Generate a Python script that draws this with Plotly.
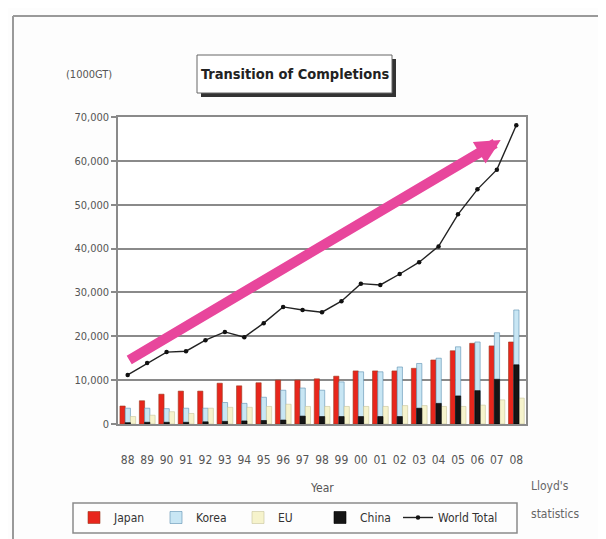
import plotly.graph_objects as go

years = ["88","89","90","91","92","93","94","95","96","97","98","99",
         "00","01","02","03","04","05","06","07","08"]
japan = [4100,5300,6800,7500,7500,9300,8700,9400,10000,10000,10300,10900,
         12100,12100,12100,12700,14600,16700,18400,17800,18700]
korea = [3600,3600,3500,3600,3600,4900,4700,6100,7700,8200,7700,9600,
         11900,11900,13000,13800,15000,17600,18700,20800,26000]
eu = [1700,2000,2800,2400,3600,3800,3800,4000,4500,4000,4000,4000,
      4000,4000,4200,4200,4000,4000,4300,5500,5900]
china = [300,400,400,400,500,600,700,800,900,1800,1700,1700,
         1700,1700,1700,3600,4700,6400,7600,10200,13500]
world = [11200,13900,16400,16600,19100,21000,19800,23000,26700,26000,25500,28000,
         32000,31700,34200,36900,40500,47800,53500,58000,68100]
y_ticks = [0,10000,20000,30000,40000,50000,60000,70000]

FONT = "DejaVu Sans Condensed, Liberation Sans Narrow, Arial Narrow, DejaVu Sans, sans-serif"
W, H = 606, 539
OFF = 8  # page body margin offset
# screen-space plot edges
SL, SR, ST, SB = 118, 526, 117, 424

def px(x):
    return (x - SL) / (SR - SL)

def py(y):
    return (SB - y) / (SB - ST)

fig = go.Figure()
bw = 0.27
fig.add_trace(go.Bar(name="Japan", x=years, y=japan, offset=-0.40, width=bw,
                     marker=dict(color="#E8261C", line=dict(color="#9A3A20", width=0.6))))
fig.add_trace(go.Bar(name="Korea", x=years, y=korea, offset=-0.13, width=bw,
                     marker=dict(color="#C8E6F4", line=dict(color="#5A8FB0", width=0.6))))
fig.add_trace(go.Bar(name="EU", x=years, y=eu, offset=0.14, width=bw,
                     marker=dict(color="#F6F3CC", line=dict(color="#C8C49A", width=0.6))))
fig.add_trace(go.Bar(name="China", x=years, y=china, offset=-0.13, width=bw,
                     marker=dict(color="#151515", line=dict(color="#000000", width=0.6))))
fig.add_trace(go.Scatter(name="World Total", x=years, y=world, mode="lines+markers",
                         line=dict(color="#222222", width=1.4),
                         marker=dict(color="#111111", size=4.5), legend="legend2"))

leg_common = dict(orientation="h", y=py(503), xanchor="left", yanchor="top",
                  borderwidth=0, bgcolor="rgba(0,0,0,0)",
                  font=dict(size=12, color="#333333"), traceorder="normal", itemwidth=30)

fig.update_layout(
    width=W, height=H,
    margin=dict(l=SL - OFF, r=W - (SR - OFF), t=ST - OFF, b=H - (SB - OFF), autoexpand=False),
    paper_bgcolor="#FDFDFD", plot_bgcolor="#FFFFFF",
    barmode="overlay",
    font=dict(family=FONT, color="#444444", size=11),
    showlegend=True,
    legend=dict(x=px(74), entrywidth=37, **leg_common),
    legend2=dict(x=px(398), **leg_common),
)
fig.update_xaxes(type="category", showgrid=False, showline=True, linecolor="#8A8A8A",
                 linewidth=1.5, mirror=True, ticks="", tickfont=dict(size=12, color="#555555"),
                 ticklabelstandoff=24, range=[-0.5, 20.5])
fig.update_yaxes(range=[0, 70000], tickvals=y_ticks, tickformat=",", showgrid=True,
                 gridcolor="#8A8A8A", gridwidth=1.5, showline=True, linecolor="#8A8A8A",
                 linewidth=1.5, mirror=True, ticks="outside", ticklen=5, tickcolor="#8A8A8A",
                 tickwidth=1.5, tickfont=dict(size=11, color="#555555"), zeroline=False)

# pink trend arrow
fig.add_annotation(x=19.2, y=64750, ax=0.0, ay=14400, xref="x", yref="y",
                   axref="x", ayref="y", text="", showarrow=True,
                   arrowhead=2, arrowsize=0.5, arrowwidth=10, arrowcolor="#E8469C")

shapes = []
# outer frame lines
shapes.append(dict(type="line", xref="paper", yref="paper", x0=px(13), y0=py(16), x1=px(620), y1=py(16),
                   line=dict(color="#9A9A9A", width=2)))
shapes.append(dict(type="line", xref="paper", yref="paper", x0=px(13), y0=py(16), x1=px(13), y1=py(560),
                   line=dict(color="#9A9A9A", width=2)))
# title box shadow and box
shapes.append(dict(type="rect", xref="paper", yref="paper", x0=px(201), y0=py(97), x1=px(396), y1=py(59),
                   fillcolor="#333333", line=dict(width=0)))
shapes.append(dict(type="rect", xref="paper", yref="paper", x0=px(197), y0=py(93), x1=px(392), y1=py(55),
                   fillcolor="#FFFFFF", line=dict(color="#666666", width=1)))
# legend frame
shapes.append(dict(type="rect", xref="paper", yref="paper", x0=px(73), y0=py(533), x1=px(517), y1=py(503),
                   fillcolor="rgba(0,0,0,0)", line=dict(color="#8A8A8A", width=1.5)))
fig.update_layout(shapes=shapes)

def label(x, y, text, size, color, xanchor="center"):
    fig.add_annotation(x=px(x), y=py(y), xref="paper", yref="paper", text=text,
                       showarrow=False, xanchor=xanchor, yanchor="middle",
                       font=dict(size=size, color=color))

label(295, 74, "<b>Transition of Completions</b>", 14.5, "#222222")
label(89, 75, "(1000GT)", 11, "#555555")
label(322, 488, "Year", 12, "#555555")
label(529, 486, "Lloyd's", 12, "#666666", "left")
label(529, 514, "statistics", 12, "#666666", "left")

fig.write_html("out.html")
